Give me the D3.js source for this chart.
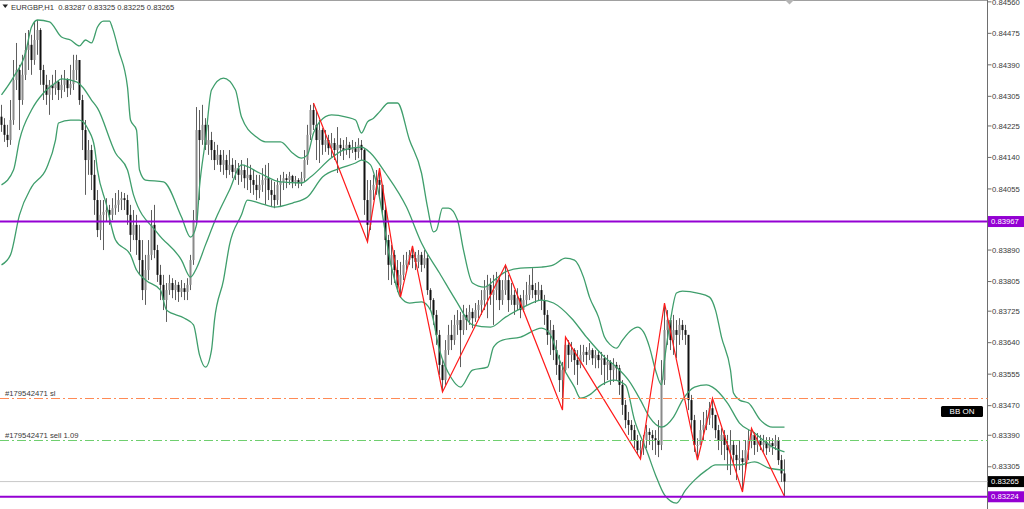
<!DOCTYPE html>
<html><head><meta charset="utf-8">
<script src="https://cdn.jsdelivr.net/npm/d3@7"></script>
<style>html,body{margin:0;padding:0;background:#fff;overflow:hidden}</style>
</head><body><svg id="c" width="1024" height="509"></svg>
<script>
// ---------- DATA (prices in points, 1 point = 0.00001) ----------
const symbol = "EURGBP,H1";
const lastOHLC = ["0.83287", "0.83325", "0.83225", "0.83265"];
const firstOpen = 84250;
const close = [
84228,84201,84187,84241,84349,84376,84295,84363,84430,84444,
84403,84457,84484,84376,84336,84309,84336,84327,84344,84322,
84336,84349,84327,84338,84376,84403,84295,84214,84133,84160,
84093,84025,83944,83985,83993,83998,83985,84003,84012,84025,
84030,84025,83985,83931,83958,83917,83863,83782,83836,83877,
83958,83890,83823,83796,83755,83782,83801,83782,83796,83777,
83787,83777,83796,83863,83971,84214,84187,84228,84174,84187,
84160,84133,84147,84120,84133,84106,84120,84101,84111,84093,
84106,84084,84093,84079,84066,84052,84066,84079,84084,84052,
84039,84025,84066,84074,84084,84079,84090,84074,84079,84071,
84084,84133,84201,84268,84228,84187,84214,84174,84187,84165,
84179,84160,84174,84165,84160,84174,84160,84165,84155,84174,
84160,84025,83958,84052,84066,84079,84066,83998,83917,83850,
83877,83836,83796,83823,83850,83863,83877,83868,83858,83877,
83850,83868,83782,83755,83715,83661,83580,83539,83620,83661,
83647,83688,83701,83674,83715,83701,83723,83706,83728,83742,
83755,83782,83796,83769,83782,83809,83755,83782,83809,83755,
83769,83742,83760,83728,83755,83769,83796,83782,83769,83782,
83755,83715,83661,83674,83620,83580,83539,83566,83634,83607,
83620,83593,83580,83607,83615,83607,83620,83598,83607,83593,
83598,83580,83588,83566,83580,83571,83526,83472,83431,83418,
83404,83377,83350,83355,83377,83399,83391,83382,83377,83364,
83539,83674,83701,83647,83674,83661,83688,83674,83661,83485,
83431,83364,83364,83404,83418,83436,83463,83445,83404,83377,
83391,83364,83350,83364,83337,83323,83328,83318,83350,83377,
83391,83364,83377,83364,83372,83355,83369,83361,83377,83323,
83287,83265];
const high = [
84282,84246,84228,84295,84403,84449,84390,84417,84476,84484,
84471,84506,84511,84489,84390,84363,84349,84363,84376,84349,
84363,84376,84354,84390,84417,84417,84403,84309,84241,84187,
84174,84133,84052,84025,84025,84030,84012,84030,84044,84052,
84047,84044,84039,84012,83998,83985,83958,83917,83877,83917,
83998,84012,83904,83850,83823,83801,83823,83814,83809,83804,
83809,83801,83814,83877,83998,84276,84268,84282,84246,84228,
84209,84182,84174,84160,84160,84147,84160,84138,84133,84125,
84133,84120,84138,84120,84106,84093,84093,84111,84120,84125,
84079,84074,84084,84093,84101,84095,84101,84093,84090,84084,
84101,84160,84228,84282,84287,84268,84241,84219,84214,84201,
84206,84192,84222,84192,84187,84195,84182,84187,84182,84192,
84187,84165,84079,84079,84093,84106,84111,84066,84012,83931,
83904,83890,83863,83858,83877,83885,83890,83901,83885,83890,
83885,83890,83877,83787,83760,83728,83674,83593,83647,83688,
83701,83715,83728,83723,83742,83733,83742,83733,83747,83755,
83782,83809,83823,83814,83823,83831,83823,83809,83850,83823,
83801,83782,83787,83769,83782,83804,83823,83841,83801,83804,
83796,83769,83728,83701,83688,83647,83607,83588,83655,83647,
83642,83625,83620,83634,83634,83628,83639,83625,83620,83620,
83615,83607,83607,83593,83598,83588,83580,83539,83485,83453,
83431,83418,83391,83377,83391,83418,83409,83404,83404,83431,
83593,83747,83728,83706,83715,83701,83706,83701,83688,83661,
83499,83445,83382,83431,83453,83458,83480,83490,83445,83418,
83409,83404,83391,83404,83377,83364,83377,83350,83377,83404,
83409,83399,83396,83391,83391,83385,83385,83382,83391,83385,
83337,83325];
const low = [
84209,84182,84168,84174,84228,84322,84214,84282,84349,84376,
84363,84390,84417,84336,84295,84282,84255,84295,84309,84295,
84300,84317,84303,84309,84322,84349,84282,84160,84039,84093,
84052,83985,83925,83917,83890,83966,83958,83971,83985,83993,
83998,83998,83958,83885,83917,83877,83823,83755,83742,83809,
83863,83868,83804,83755,83728,83696,83769,83760,83755,83750,
83763,83755,83755,83782,83850,83958,84025,84174,84160,84147,
84133,84106,84120,84101,84093,84084,84093,84084,84079,84066,
84074,84057,84052,84044,84039,84025,84030,84047,84012,84025,
84006,84003,84012,84006,84052,84057,84066,84057,84063,84057,
84063,84074,84120,84187,84214,84133,84125,84147,84155,84147,
84141,84133,84098,84144,84133,84147,84138,84152,84133,84138,
84133,83985,83912,83944,84025,84039,84030,83985,83877,83809,
83796,83801,83777,83763,83809,83836,83850,83841,83836,83841,
83831,83841,83769,83728,83688,83634,83553,83507,83526,83607,
83620,83634,83661,83574,83661,83674,83688,83679,83696,83706,
83715,83728,83706,83742,83688,83755,83728,83742,83769,83723,
83742,83715,83728,83706,83723,83742,83755,83760,83747,83755,
83728,83688,83634,83607,83593,83553,83507,83458,83561,83571,
83588,83553,83526,83571,83588,83580,83593,83580,83571,83571,
83553,83526,83539,83526,83534,83539,83499,83445,83409,83391,
83377,83355,83337,83326,83337,83355,83364,83350,83337,83331,
83350,83526,83634,83620,83607,83598,83634,83647,83634,83458,
83404,83345,83323,83364,83377,83404,83418,83409,83382,83350,
83337,83323,83296,83283,83310,83269,83296,83237,83296,83323,
83355,83337,83345,83350,83345,83337,83345,83337,83350,83310,
83264,83225];

// Bollinger bands (candle index, price in points)
const bbUpIdx = [0,4,8,10,12,16,20,23,26,28,30,32,34,36,37,39,42,43,45,46,48,54,60,63,65,66,68,70,74,78,80,85,88,93,97,100,102,104,106,110,115,118,120,122,124,126,129,132,136,140,142,144,145,147,149,152,154,157,161,165,168,173,180,184,188,191,194,196,199,201,203,205,207,210,212,214,216,218,220,221,223,225,227,232,236,238,240,243,244,246,249,253,257,261];
const bbUp = [84309,84357,84422,84492,84511,84506,84465,84457,84441,84457,84449,84492,84508,84508,84489,84430,84330,84241,84214,84106,84079,84074,83979,83925,83958,84060,84187,84322,84354,84322,84249,84195,84182,84182,84152,84138,84147,84206,84236,84255,84249,84241,84206,84236,84246,84263,84287,84287,84187,84098,84006,83939,83944,84003,84003,83971,83890,83801,83790,83814,83831,83841,83844,83850,83868,83863,83817,83763,83709,83655,83634,83625,83647,83674,83682,83669,83628,83566,83526,83593,83701,83774,83779,83774,83763,83728,83655,83566,83504,83485,83477,83431,83412,83412];
const bbMidIdx = [0,4,6,10,14,18,20,25,27,30,32,38,42,44,52,60,63,65,68,72,76,80,86,93,100,103,110,114,120,123,128,135,140,146,152,157,163,168,174,180,184,190,195,201,205,209,213,216,220,224,227,231,235,237,242,246,251,257,261];
const bbMid = [84066,84106,84187,84268,84314,84341,84352,84344,84330,84295,84273,84152,84106,84039,83936,83863,83817,83841,83904,83985,84052,84120,84098,84074,84071,84087,84139,84160,84168,84152,84098,84006,83909,83828,83747,83688,83682,83709,83736,83755,83747,83706,83655,83601,83574,83539,83485,83439,83412,83439,83485,83520,83526,83520,83477,83423,83396,83358,83345];
const bbLowIdx = [0,3,6,10,15,18,19,23,26,29,31,32,35,38,43,45,48,53,55,61,64,66,68,70,71,74,76,80,82,86,91,97,102,107,113,118,120,123,125,130,133,136,140,143,146,150,153,157,162,164,167,173,180,183,186,191,193,196,200,204,208,211,215,218,221,225,228,231,235,238,241,246,251,256,261];
const bbLow = [83850,83877,83985,84060,84111,84187,84233,84241,84241,84214,84168,84106,84012,83917,83877,83836,83809,83782,83728,83706,83688,83607,83574,83620,83701,83809,83904,83985,84025,84017,84006,84017,84033,84087,84111,84125,84133,84120,84071,83844,83763,83747,83750,83728,83620,83544,83520,83566,83574,83628,83647,83655,83679,83661,83593,83520,83490,83499,83526,83539,83526,83431,83350,83283,83229,83207,83242,83269,83296,83310,83310,83310,83318,83301,83296];

// ZigZag vertices (candle index, price in points)
const zzIdx = [104,122,126,133,137,147,168,187,188,213,221,232,237,247,250,261];
const zzPrice = [84287,83912,84111,83763,83901,83507,83850,83458,83655,83326,83747,83323,83490,83237,83409,83225];

// Price axis tick labels
const tickLabels = ["0.84560","0.84475","0.84390","0.84305","0.84225","0.84140","0.84055","0.83975","0.83890","0.83805","0.83725","0.83640","0.83555","0.83470","0.83390","0.83305"];

// Horizontal levels
const purpleLevels = ["0.83967", "0.83224"];
const bidPrice = "0.83265";
const orderLines = [
  {label: "#179542471 sl", price: 0.83491, color: "#ff8a55"},
  {label: "#179542471 sell 1.09", price: 0.83377, color: "#6fcf6f"}
];
const badgeText = "BB ON";

// ---------- DRAWING ----------
const W = 1024, H = 509, axisX = 987.5;
const N = close.length;
const P = v => v / 1e5;
const open = close.map((c, i) => i === 0 ? firstOpen : close[i - 1]);

const svg = d3.select("#c");
const x = d3.scaleLinear().domain([0, N - 1]).range([1.5, 784.5]);
const y = d3.scaleLinear().domain([0.84565, 0.83191]).range([0, H]);

const font = "'Liberation Sans', Arial, sans-serif";

// frame
svg.append("line").attr("x1", 0).attr("x2", axisX).attr("y1", 0.5).attr("y2", 0.5)
  .attr("stroke", "#a0a0a0").attr("stroke-width", 1);
svg.append("line").attr("x1", axisX).attr("x2", axisX).attr("y1", 0).attr("y2", H)
  .attr("stroke", "#6e6e6e").attr("stroke-width", 1);

// shift marker
svg.append("path").attr("d", "M785,0 L794,0 L789.5,4.5 Z").attr("fill", "#b4b4b4");

// bid line
svg.append("line").attr("x1", 0).attr("x2", axisX).attr("y1", y(+bidPrice)).attr("y2", y(+bidPrice))
  .attr("stroke", "#c8c8c8").attr("stroke-width", 1);

// candles
const cg = svg.append("g");
const idx = d3.range(N);
cg.selectAll("line.w").data(idx).enter().append("line")
  .attr("x1", i => x(i)).attr("x2", i => x(i))
  .attr("y1", i => y(P(high[i]))).attr("y2", i => y(P(low[i])))
  .attr("stroke", "#5e5e5e").attr("stroke-width", 1);
cg.selectAll("rect.b").data(idx).enter().append("rect")
  .attr("x", i => x(i) - 1).attr("width", 2)
  .attr("y", i => y(P(Math.max(open[i], close[i]))))
  .attr("height", i => Math.max(1, Math.abs(y(P(open[i])) - y(P(close[i])))))
  .attr("fill", i => close[i] >= open[i] ? "#8a8a8a" : "#111");

// Bollinger bands
const bandColor = "#3f9e6c";
function band(idxArr, vals) {
  const line = d3.line().x(d => x(d[0])).y(d => y(P(d[1]))).curve(d3.curveMonotoneX);
  svg.append("path").attr("d", line(idxArr.map((k, j) => [k, vals[j]])))
    .attr("fill", "none").attr("stroke", bandColor).attr("stroke-width", 1.3);
}
band(bbUpIdx, bbUp);
band(bbMidIdx, bbMid);
band(bbLowIdx, bbLow);

// zigzag
svg.append("path")
  .attr("d", d3.line().x(d => x(d[0])).y(d => y(P(d[1])))(zzIdx.map((k, j) => [k, zzPrice[j]])))
  .attr("fill", "none").attr("stroke", "#ff1a1a").attr("stroke-width", 1.2);

// order lines
orderLines.forEach(o => {
  const yy = Math.round(y(o.price)) + 0.5;
  svg.append("line").attr("x1", 0).attr("x2", axisX).attr("y1", yy).attr("y2", yy)
    .attr("stroke", o.color).attr("stroke-width", 1).attr("stroke-dasharray", "9,3,2,3");
  svg.append("text").attr("x", 5).attr("y", yy - 3).text(o.label)
    .attr("font-family", font).attr("font-size", 7.7).attr("fill", "#3a3a3a");
});

// purple levels
purpleLevels.forEach(v => {
  svg.append("line").attr("x1", 0).attr("x2", axisX).attr("y1", y(+v)).attr("y2", y(+v))
    .attr("stroke", "#9400d3").attr("stroke-width", 2);
});

// axis ticks and labels
tickLabels.forEach(t => {
  const yy = y(+t);
  svg.append("line").attr("x1", axisX).attr("x2", axisX + 4).attr("y1", yy).attr("y2", yy)
    .attr("stroke", "#6e6e6e");
  svg.append("text").attr("x", 992).attr("y", yy).attr("dy", "0.35em").text(t)
    .attr("font-family", font).attr("font-size", 7.7).attr("fill", "#3a3a3a");
});

// price label boxes
function priceBox(v, bg) {
  const yy = y(+v);
  svg.append("rect").attr("x", 988).attr("y", yy - 5.5).attr("width", 36).attr("height", 11).attr("fill", bg);
  svg.append("text").attr("x", 991).attr("y", yy).attr("dy", "0.35em").text(v)
    .attr("font-family", font).attr("font-size", 7.7).attr("fill", "#fff");
}
purpleLevels.forEach(v => priceBox(v, "#9400d3"));
priceBox(bidPrice, "#000");

// BB ON badge
svg.append("rect").attr("x", 941).attr("y", 406).attr("width", 42).attr("height", 11).attr("rx", 1.5).attr("fill", "#000");
svg.append("text").attr("x", 962).attr("y", 411.5).attr("dy", "0.35em").attr("text-anchor", "middle").text(badgeText)
  .attr("font-family", font).attr("font-size", 8).attr("fill", "#fff");

// header
svg.append("path").attr("d", "M2.5,4.5 L8,4.5 L5.25,8 Z").attr("fill", "#222");
svg.append("text").attr("x", 11).attr("y", 9.5)
  .text(symbol + "  " + lastOHLC.join(" "))
  .attr("font-family", font).attr("font-size", 7.6).attr("fill", "#333").attr("xml:space", "preserve");
</script>
</body></html>
